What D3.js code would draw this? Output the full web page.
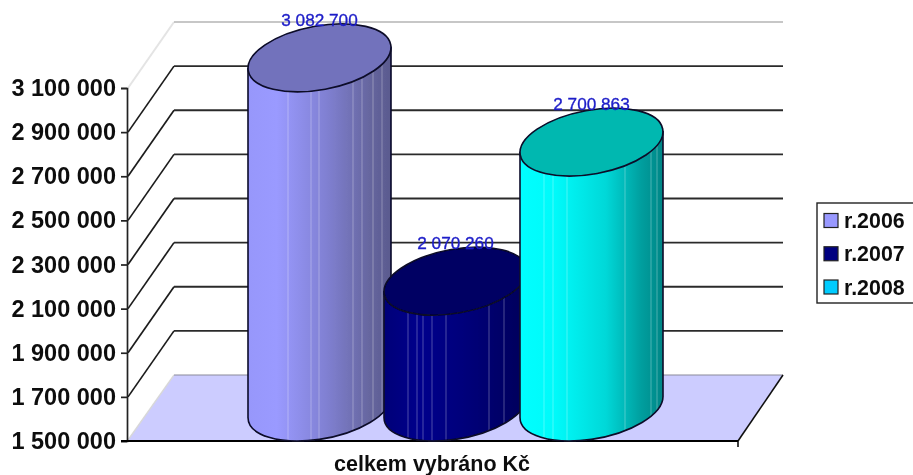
<!DOCTYPE html>
<html><head><meta charset="utf-8">
<script src="https://cdnjs.cloudflare.com/ajax/libs/d3/7.8.5/d3.min.js"></script>
<style>html,body{margin:0;padding:0;background:#fff;overflow:hidden}svg{display:block}text{font-family:"Liberation Sans",Arial,sans-serif}</style>
</head><body><svg id="c" width="913" height="475"></svg>
<script>
const categories = ["r.2006", "r.2007", "r.2008"];
const values = [3082700, 2070260, 2700863];
const valueLabels = ["3 082 700", "2 070 260", "2 700 863"];
const tickValues = [1500000, 1700000, 1900000, 2100000, 2300000, 2500000, 2700000, 2900000, 3100000];
const tickLabels = ["1 500 000", "1 700 000", "1 900 000", "2 100 000", "2 300 000", "2 500 000", "2 700 000", "2 900 000", "3 100 000"];
const axisTitle = "celkem vybráno Kč";
const swatchColors = ["#9999ff", "#000080", "#00ccff"];
const capColors = ["#7272bc", "#000064", "#00b8b0"];
const bodyStops = [
  [["0", "#9797fb"], [".2", "#9a9aff"], [".55", "#8080d2"], [".85", "#66669f"], ["1", "#5a5a8e"]],
  [["0", "#000078"], [".25", "#00008c"], [".6", "#000078"], ["1", "#00005a"]],
  [["0", "#00ffff"], [".25", "#00fafa"], [".6", "#00d8d8"], [".85", "#009e9e"], ["1", "#008686"]]
];
const stripes = [[40, 63, 71, 105, 114, 125, 134], [24, 33, 39, 48, 62, 105, 120], [24, 33, 47, 105, 131, 137]];

const svg = d3.select("#c");
const defs = svg.append("defs");
defs.append("filter").attr("id", "soft").attr("x", 0).attr("y", 0).attr("width", 1).attr("height", 1)
  .append("feGaussianBlur").attr("stdDeviation", 0.55);
const root = svg.append("g").attr("filter", "url(#soft)");
root.append("rect").attr("width", 913).attr("height", 475).attr("fill", "#fff");

const y = d3.scaleLinear().domain([1500000, 3100000]).range([441, 88]);
const x = d3.scaleBand().domain(categories).range([248, 656]).paddingInner(0).paddingOuter(0);
const x0 = 127, x1 = 738, dx = 47, dy = -66, depthR = 45;

// floor
root.append("path")
  .attr("d", `M${x0},${y(1500000)}L${x0 + dx},${y(1500000) + dy}L${x1 + depthR},${y(1500000) + dy}L${x1},${y(1500000)}Z`)
  .attr("fill", "#ccccff");
root.append("line").attr("x1", x0 + 1).attr("y1", 440).attr("x2", x0 + dx).attr("y2", 441 + dy)
  .attr("stroke", "#d8d8d8").attr("stroke-width", 1.3);
root.append("line").attr("x1", x0 + dx).attr("y1", 441 + dy).attr("x2", x1 + depthR).attr("y2", 441 + dy)
  .attr("stroke", "#8a8a9a").attr("stroke-width", 1.2);
root.append("line").attr("x1", x1).attr("y1", 441).attr("x2", x1 + depthR).attr("y2", 441 + dy)
  .attr("stroke", "#111").attr("stroke-width", 1.6);

// walls / gridlines
const gridTicks = tickValues.slice(1);
gridTicks.forEach((t, i) => {
  const top = i === gridTicks.length - 1;
  const col = top ? "#e4e4e4" : "#1c1c1c";
  root.append("line").attr("x1", x0 + 1).attr("y1", y(t)).attr("x2", x0 + dx).attr("y2", y(t) + dy)
    .attr("stroke", col).attr("stroke-width", top ? 2 : 1.7);
  root.append("line").attr("x1", x0 + dx).attr("y1", y(t) + dy).attr("x2", x1 + depthR).attr("y2", y(t) + dy)
    .attr("stroke", top ? "#b4b4b4" : "#2c2c2c").attr("stroke-width", top ? 1.3 : 1.9);
});

// axes
const yAxis = d3.axisLeft(y).tickValues(tickValues).tickSize(6).tickPadding(5)
  .tickFormat((d, i) => tickLabels[i]);
const yg = root.append("g").attr("transform", `translate(${x0},0)`).call(yAxis);
yg.select(".domain").attr("stroke", "#222").attr("stroke-width", 1.7);
yg.selectAll(".tick line").attr("stroke", "#222").attr("stroke-width", 1.7);
yg.selectAll(".tick text").attr("fill", "#111").attr("font-size", 23.5).attr("font-weight", 700)
  .attr("style", 'font-family:"Liberation Sans",Arial,sans-serif');
root.append("line").attr("x1", x0 - 6).attr("y1", 441).attr("x2", x1).attr("y2", 441).attr("stroke", "#000").attr("stroke-width", 1.8);
root.append("line").attr("x1", x1).attr("y1", 441).attr("x2", x1).attr("y2", 447).attr("stroke", "#000").attr("stroke-width", 1.5);

// cylinders
const halfW = x.bandwidth() / 2 + 3.5, capH = 34, rx = 72.4, ry = 31.9, tilt = 10.4, lean = 10.5;
categories.forEach((c, i) => {
  const cx = x(c) + halfW;
  const cTop = y(values[i]) - capH, cBase = y(1500000) - capH;
  const grad = defs.append("linearGradient").attr("id", "g" + i);
  bodyStops[i].forEach(s => grad.append("stop").attr("offset", s[0]).attr("stop-color", s[1]));
  const body = `M${cx - halfW},${cTop + lean}L${cx - halfW},${cBase + lean}` +
    `A${rx},${ry} ${-tilt} 0 0 ${cx + halfW},${cBase - lean}L${cx + halfW},${cTop - lean}Z`;
  defs.append("clipPath").attr("id", "b" + i).append("path").attr("d", body);
  const g = root.append("g");
  g.append("path").attr("d", body).attr("fill", `url(#g${i})`);
  g.append("g").attr("clip-path", `url(#b${i})`).selectAll("line").data(stripes[i]).join("line")
    .attr("x1", d => x(c) + d).attr("x2", d => x(c) + d)
    .attr("y1", cTop - 40).attr("y2", cBase + 40)
    .attr("stroke", "#fff").attr("stroke-opacity", .3).attr("stroke-width", 1);
  g.append("path").attr("d", body).attr("fill", "none").attr("stroke", "#0a0a28").attr("stroke-width", 1.6);
  g.append("ellipse").attr("rx", rx).attr("ry", ry)
    .attr("transform", `translate(${cx},${cTop}) rotate(${-tilt})`)
    .attr("fill", capColors[i]).attr("stroke", "#0a0a28").attr("stroke-width", 1.6);
});

// data labels
categories.forEach((c, i) => {
  root.append("text").attr("x", x(c) + halfW).attr("y", y(values[i]) - 66)
    .attr("text-anchor", "middle").attr("fill", "#1e1ec8").attr("stroke", "#1e1ec8").attr("stroke-width", .35)
    .attr("font-size", 17.2).text(valueLabels[i]);
});

// x title
root.append("text").attr("x", 432).attr("y", 471).attr("text-anchor", "middle")
  .attr("fill", "#111").attr("font-size", 21.5).attr("font-weight", 700).text(axisTitle);

// legend
root.append("rect").attr("x", 817).attr("y", 203).attr("width", 100).attr("height", 100)
  .attr("fill", "#fff").attr("stroke", "#222").attr("stroke-width", 1.4);
const legendY = d3.scalePoint().domain(categories).range([220.5, 287]);
categories.forEach((c, i) => {
  root.append("rect").attr("x", 824).attr("y", legendY(c) - 7).attr("width", 14).attr("height", 14)
    .attr("fill", swatchColors[i]).attr("stroke", "#222").attr("stroke-width", 1.2);
  root.append("text").attr("x", 844).attr("y", legendY(c) + 7.5).attr("fill", "#111")
    .attr("font-size", 21.4).attr("font-weight", 700).text(c);
});
</script></body></html>
